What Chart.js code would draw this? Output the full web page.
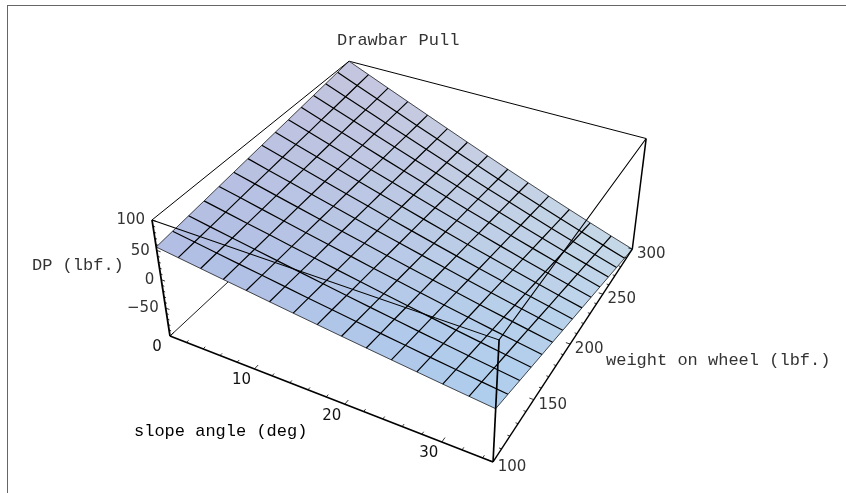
<!DOCTYPE html>
<html>
<head>
<meta charset="utf-8">
<title>Drawbar Pull</title>
<script src="https://cdn.jsdelivr.net/npm/chart.js@4/dist/chart.umd.min.js"></script>
<style>
  html, body { margin: 0; padding: 0; background: #fff; overflow: hidden; }
  #frame { position: absolute; left: 7px; top: 5px; width: 846px; height: 493px;
           border-left: 1px solid #666; border-top: 1px solid #666; }
  canvas { position: absolute; left: 0; top: 0; }
</style>
</head>
<body>
<div id="frame"></div>
<canvas id="chart" width="846" height="493"></canvas>
<script>
const slopeAngles = [0, 2.5, 5, 7.5, 10, 12.5, 15, 17.5, 20, 22.5, 25, 27.5, 30, 32.5, 35];
const weights = [100, 114.3, 128.6, 142.9, 157.1, 171.4, 185.7, 200, 214.3, 228.6, 242.9, 257.1, 271.4, 285.7, 300];

// DP (lbf.) along slopeAngles, one list per weight on wheel
const dpW100 = [55.6, 50.7, 45.7, 40.8, 36.0, 31.1, 26.3, 21.6, 16.9, 12.3, 7.8, 3.4, -1.0, -5.2, -9.3];
const dpW114 = [58.8, 53.1, 47.5, 41.8, 36.2, 30.7, 25.1, 19.7, 14.3, 9.0, 3.8, -1.3, -6.2, -11.1, -15.8];
const dpW129 = [61.9, 55.5, 49.1, 42.7, 36.4, 30.1, 23.9, 17.7, 11.6, 5.7, -0.2, -6.0, -11.6, -17.1, -22.4];
const dpW143 = [65.1, 57.9, 50.8, 43.7, 36.6, 29.6, 22.6, 15.8, 9.0, 2.3, -4.2, -10.7, -16.9, -23.0, -29.0];
const dpW157 = [68.3, 60.4, 52.5, 44.7, 36.9, 29.1, 21.5, 13.9, 6.4, -0.9, -8.2, -15.3, -22.2, -28.9, -35.5];
const dpW171 = [71.5, 62.9, 54.2, 45.7, 37.1, 28.7, 20.3, 12.0, 3.8, -4.2, -12.1, -19.9, -27.4, -34.8, -42.0];
const dpW186 = [74.6, 65.2, 55.9, 46.6, 37.3, 28.1, 19.0, 10.0, 1.1, -7.6, -16.2, -24.6, -32.8, -40.8, -48.6];
const dpW200 = [77.8, 67.7, 57.6, 47.5, 37.5, 27.6, 17.8, 8.1, -1.5, -10.9, -20.2, -29.3, -38.1, -46.8, -55.2];
const dpW214 = [81.0, 70.2, 59.3, 48.5, 37.8, 27.2, 16.6, 6.2, -4.1, -14.2, -24.1, -33.9, -43.4, -52.7, -61.7];
const dpW229 = [84.1, 72.5, 60.9, 49.4, 38.0, 26.6, 15.3, 4.2, -6.8, -17.6, -28.2, -38.6, -48.7, -58.7, -68.3];
const dpW243 = [87.3, 75.0, 62.7, 50.4, 38.2, 26.1, 14.2, 2.3, -9.4, -20.8, -32.1, -43.2, -54.0, -64.5, -74.8];
const dpW257 = [90.5, 77.4, 64.4, 51.4, 38.5, 25.7, 13.0, 0.4, -11.9, -24.1, -36.1, -47.8, -59.3, -70.4, -81.3];
const dpW271 = [93.6, 79.8, 66.0, 52.3, 38.6, 25.1, 11.7, -1.6, -14.7, -27.5, -40.2, -52.6, -64.7, -76.5, -88.0];
const dpW286 = [96.8, 82.3, 67.7, 53.3, 38.9, 24.6, 10.5, -3.5, -17.3, -30.8, -44.2, -57.2, -70.0, -82.4, -94.5];
const dpW300 = [100.0, 84.7, 69.4, 54.3, 39.2, 24.2, 9.3, -5.4, -19.9, -34.1, -48.1, -61.8, -75.2, -88.3, -101.0];
const dpRows = [dpW100, dpW114, dpW129, dpW143, dpW157, dpW171, dpW186, dpW200,
                dpW214, dpW229, dpW243, dpW257, dpW271, dpW286, dpW300];

const slopeRange = [0, 35];
const weightRange = [100, 300];
const dpRange = [-101, 100];

const slopeTicks = [0, 10, 20, 30];
const slopeMinorTicks = [2, 4, 6, 8, 12, 14, 16, 18, 22, 24, 26, 28, 32, 34];
const weightTicks = [100, 150, 200, 250, 300];
const weightMinorTicks = [110, 120, 130, 140, 160, 170, 180, 190, 210, 220, 230, 240, 260, 270, 280, 290];
const dpTicks = [100, 50, 0, -50];
const dpMinorTicks = [90, 80, 70, 60, 40, 30, 20, 10, -10, -20, -30, -40, -60, -70, -80, -90, -100];

// perspective camera fitted to the box in the picture
function project(slope, weight, dp) {
  const u = (slope - slopeRange[0]) / (slopeRange[1] - slopeRange[0]);
  const v = (weight - weightRange[0]) / (weightRange[1] - weightRange[0]);
  const t = (dp - dpRange[0]) / (dpRange[1] - dpRange[0]);
  const w = 1 - 0.1153 * u + 0.214 * v - 0.0672 * t;
  return {
    x: (170 + 266.2 * u + 258.5 * v - 28.2 * t) / w,
    y: (336 + 72.7 * u - 135 * v - 130.8 * t) / w,
  };
}

// surface colour at the four corners of the plot, blended over each cell
const colorS0W100 = [177, 189, 227];
const colorS35W100 = [174, 205, 238];
const colorS0W300 = [197, 197, 222];
const colorS35W300 = [198, 217, 232];

function cellColor(a, b) {
  const rgb = [0, 1, 2].map((k) => {
    const low = colorS0W100[k] * (1 - a) + colorS35W100[k] * a;
    const high = colorS0W300[k] * (1 - a) + colorS35W300[k] * a;
    return Math.round(low * (1 - b) + high * b);
  });
  return `rgb(${rgb[0]},${rgb[1]},${rgb[2]})`;
}

function lineSet(points, width, color) {
  return {
    data: points,
    showLine: true,
    pointRadius: 0,
    borderWidth: width,
    borderColor: color || "#000",
    fill: false,
    clip: false,
  };
}

const [s0, s1] = slopeRange;
const [w0, w1] = weightRange;
const [d0, d1] = dpRange;
const drawList = [];

// box edges behind the surface
drawList.push(lineSet([project(s0, w0, d0), project(s0, w1, d0), project(s1, w1, d0)], 0.9));
drawList.push(lineSet([project(s0, w1, d0), project(s0, w1, d1)], 0.9));
drawList.push(lineSet([project(s0, w1, d1), project(s1, w1, d1)], 1));
drawList.push(lineSet([project(s1, w1, d0), project(s1, w1, d1)], 1.5));

// surface cells
for (let j = 0; j < weights.length - 1; j++) {
  for (let i = 0; i < slopeAngles.length - 1; i++) {
    const color = cellColor((i + 0.5) / 14, (j + 0.5) / 14);
    const cell = lineSet([
      project(slopeAngles[i], weights[j], dpRows[j][i]),
      project(slopeAngles[i + 1], weights[j], dpRows[j][i + 1]),
      project(slopeAngles[i + 1], weights[j + 1], dpRows[j + 1][i + 1]),
      project(slopeAngles[i], weights[j + 1], dpRows[j + 1][i]),
      project(slopeAngles[i], weights[j], dpRows[j][i]),
    ], 0.6, color);
    cell.fill = "shape";
    cell.backgroundColor = color;
    drawList.push(cell);
  }
}

// mesh lines
weights.forEach((weight, j) => {
  const edge = j === 0 || j === weights.length - 1;
  drawList.push(lineSet(slopeAngles.map((s, i) => project(s, weight, dpRows[j][i])), edge ? 0.8 : 1.2, edge ? "#222" : "#000"));
});
slopeAngles.forEach((slope, i) => {
  const edge = i === 0 || i === slopeAngles.length - 1;
  drawList.push(lineSet(weights.map((w, j) => project(slope, w, dpRows[j][i])), edge ? 0.8 : 1.2, edge ? "#222" : "#000"));
});

// box edges in front of the surface
drawList.push(lineSet([project(s0, w0, d1), project(s0, w1, d1)], 1));
drawList.push(lineSet([project(s0, w0, d1), project(s1, w0, d1), project(s1, w1, d1)], 1.1));
drawList.push(lineSet([project(s0, w0, d0), project(s0, w0, d1)], 1.8));
drawList.push(lineSet([project(s1, w0, d0), project(s1, w0, d1)], 1.7));
drawList.push(lineSet([project(s0, w0, d0), project(s1, w0, d0)], 1.7));
drawList.push(lineSet([project(s1, w0, d0), project(s1, w1, d0)], 1.4));

// tick marks, broken into pieces with NaN gaps
function tickSet(values, from, to, width) {
  const points = [];
  values.forEach((value) => {
    points.push(from(value), to(value), { x: NaN, y: NaN });
  });
  return lineSet(points, width);
}
const dpTickAt = (len) => (value) => project(s0 + len, w0, value);
const slopeTickAt = (len) => (value) => project(value, w0 + len, d0);
const weightTickAt = (len) => (value) => project(s1 - len, value, d0);
drawList.push(tickSet(dpTicks, dpTickAt(0), dpTickAt(0.45), 0.8));
drawList.push(tickSet(dpMinorTicks, dpTickAt(0), dpTickAt(0.25), 0.8));
drawList.push(tickSet(slopeTicks, slopeTickAt(0), slopeTickAt(3.5), 0.8));
drawList.push(tickSet(slopeMinorTicks, slopeTickAt(0), slopeTickAt(2), 0.8));
drawList.push(tickSet(weightTicks, weightTickAt(0), weightTickAt(0.45), 0.8));
drawList.push(tickSet(weightMinorTicks, weightTickAt(0), weightTickAt(0.25), 0.8));

drawList.forEach((set, index) => {
  set.order = drawList.length - index;
});

const tickFont = '15px "DejaVu Sans"';
const titleFont = '17px "Liberation Mono"';

const textPlugin = {
  id: "plotText",
  afterDraw(chart) {
    const c = chart.ctx;
    const toPixel = (p) => ({
      x: chart.scales.x.getPixelForValue(p.x),
      y: chart.scales.y.getPixelForValue(p.y),
    });
    c.save();
    c.textBaseline = "middle";

    c.font = tickFont;
    c.fillStyle = "#333";
    c.textAlign = "right";
    dpTicks.forEach((value) => {
      const p = toPixel(project(s0, w0, value));
      c.fillText(String(value).replace("-", "\u2212"), p.x - 7, p.y + 0.5);
    });
    c.textAlign = "center";
    weightTicks.forEach((value) => {
      const p = toPixel(project(s1, value, d0));
      c.fillText(String(value), p.x + 19, p.y + 5.2);
    });
    c.fillStyle = "#111";
    slopeTicks.forEach((value) => {
      const p = toPixel(project(value, w0, d0));
      c.fillText(String(value), p.x - 13, p.y + 11.5);
    });

    c.font = titleFont;
    c.fillStyle = "#333";
    c.textAlign = "left";
    c.fillText("Drawbar Pull", 337, 40);
    c.fillText("DP (lbf.)", 32, 265);
    c.fillText("weight on wheel (lbf.)", 606, 360);
    c.fillStyle = "#000";
    c.fillText("slope angle (deg)", 134, 431);
    c.restore();
  },
};

new Chart(document.getElementById("chart").getContext("2d"), {
  type: "scatter",
  data: { datasets: drawList },
  plugins: [textPlugin],
  options: {
    responsive: false,
    animation: false,
    layout: { padding: 0 },
    scales: {
      x: { type: "linear", min: 0, max: 846, display: false },
      y: { type: "linear", min: 0, max: 493, reverse: true, display: false },
    },
    plugins: {
      legend: { display: false },
      tooltip: { enabled: false },
    },
  },
});
</script>
</body>
</html>
